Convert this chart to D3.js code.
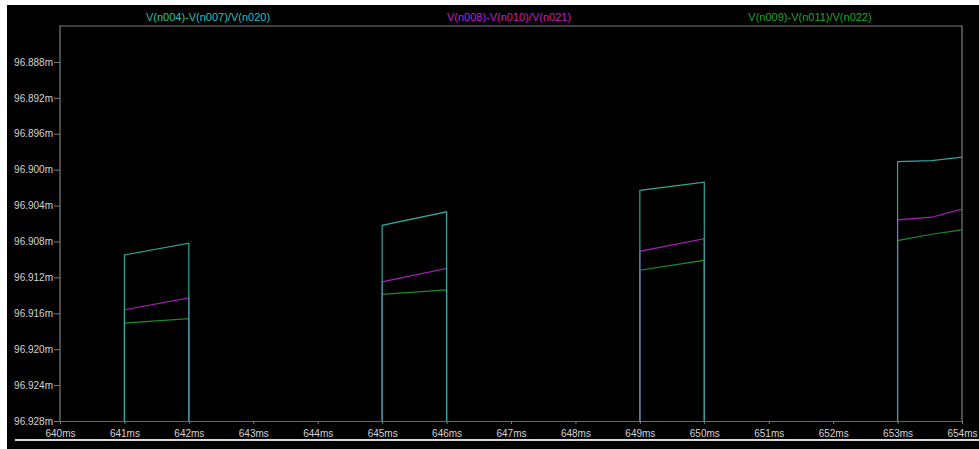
<!DOCTYPE html>
<html>
<head>
<meta charset="utf-8">
<script src="https://cdn.jsdelivr.net/npm/d3@7"></script>
<style>
  body { margin: 0; background: #fff; }
  svg { display: block; }
  text { font-family: "Liberation Sans", Arial, sans-serif; }
</style>
</head>
<body>
<div id="chart"></div>
<script>
// series names as shown in the header
var seriesNames = ["V(n004)-V(n007)/V(n020)", "V(n008)-V(n010)/V(n021)", "V(n009)-V(n011)/V(n022)"];
var seriesColors = ["#2fa89c", "#a81db8", "#1c8a28"];
var labelColors = ["#27c2b2", "#c21fd2", "#22a52a"];

// time in ms
var times = [640, 641, 641, 642, 642, 645, 645, 646, 646, 649, 649, 650, 650, 653, 653, 653.53, 654];

// values (off-scale low between the pulses)
var cyanVals    = [96.94, 96.94, 96.9095, 96.9082, 96.94, 96.94, 96.9062, 96.9047, 96.94, 96.94, 96.9023, 96.9014, 96.94, 96.94, 96.8991, 96.8990, 96.8986];
var magentaVals = [96.94, 96.94, 96.9156, 96.9143, 96.94, 96.94, 96.9125, 96.9110, 96.94, 96.94, 96.9091, 96.9077, 96.94, 96.94, 96.9056, 96.9053, 96.9044];
var greenVals   = [96.94, 96.94, 96.9171, 96.9166, 96.94, 96.94, 96.9139, 96.9134, 96.94, 96.94, 96.9112, 96.9101, 96.94, 96.94, 96.9079, 96.9072, 96.9067];

var xTicks = [640, 641, 642, 643, 644, 645, 646, 647, 648, 649, 650, 651, 652, 653, 654];
var yTicks = [96.888, 96.892, 96.896, 96.900, 96.904, 96.908, 96.912, 96.916, 96.920, 96.924, 96.928];

function main() {
    var W = 979, H = 449;
    var margin = {top: 26, right: 17, bottom: 28, left: 60},
        width = W - margin.left - margin.right,
        height = H - margin.top - margin.bottom;

    var svg = d3.select("#chart").append("svg")
        .attr("width", W)
        .attr("height", H);

    // black panel with white edge on top and left
    svg.append("rect")
        .attr("x", 7).attr("y", 5)
        .attr("width", W - 7).attr("height", H - 5)
        .attr("fill", "#000");

    var g = svg.append("g")
        .attr("transform", "translate(" + margin.left + "," + margin.top + ")");

    var xScale = d3.scaleLinear().domain([640, 654]).range([0, width]);
    var yScale = d3.scaleLinear().domain([96.928, 96.884]).range([height, 0]);

    g.append("clipPath").attr("id", "clip")
        .append("rect").attr("width", width).attr("height", height);

    // frame
    g.append("path")
        .attr("d", "M0," + height + "V0H" + width + "V" + height)
        .attr("fill", "none")
        .attr("stroke", "#7c7c7c")
        .attr("stroke-width", 1.2);

    // x axis
    var xAxis = g.append("g")
        .attr("transform", "translate(0," + height + ")")
        .call(d3.axisBottom(xScale).tickValues(xTicks).tickSize(3).tickFormat(function(d) { return d + "ms"; }));
    xAxis.select(".domain").attr("stroke", "#6a6a6a");
    xAxis.selectAll(".tick line").attr("stroke", "#7c7c7c");
    xAxis.selectAll("text")
        .attr("fill", "#d4d4d4")
        .attr("font-size", 10)
        .attr("y", 9)
        .attr("dy", "0.71em");

    // y axis
    var yAxis = g.append("g")
        .call(d3.axisLeft(yScale).tickValues(yTicks).tickSize(6).tickFormat(function(d) { return d.toFixed(3) + "m"; }));
    yAxis.select(".domain").remove();
    yAxis.selectAll(".tick line").attr("stroke", "#7c7c7c");
    yAxis.selectAll("text")
        .attr("fill", "#d4d4d4")
        .attr("font-size", 10)
        .attr("x", -7);

    // traces
    var allVals = [greenVals, magentaVals, cyanVals];
    var allColors = [seriesColors[2], seriesColors[1], seriesColors[0]];
    var line = d3.line()
        .x(function(d, i) { return xScale(times[i]); })
        .y(function(d) { return yScale(d); });

    g.append("g")
        .attr("clip-path", "url(#clip)")
        .selectAll("path")
        .data(allVals)
        .join("path")
        .attr("d", line)
        .attr("fill", "none")
        .attr("stroke", function(d, i) { return allColors[i]; })
        .attr("stroke-width", 1.2);

    // header labels
    var labelX = d3.scalePoint().domain(seriesNames).range([208, 810]);
    svg.selectAll(".hdr")
        .data(seriesNames)
        .join("text")
        .attr("class", "hdr")
        .attr("x", function(d) { return labelX(d); })
        .attr("y", 21)
        .attr("text-anchor", "middle")
        .attr("font-size", 11)
        .attr("fill", function(d, i) { return labelColors[i]; })
        .text(function(d) { return d; });

    // bottom light rule
    svg.append("rect")
        .attr("x", 15).attr("y", 439)
        .attr("width", W - 15).attr("height", 2)
        .attr("fill", "#d9d9d9");
}
main();
</script>
</body>
</html>
